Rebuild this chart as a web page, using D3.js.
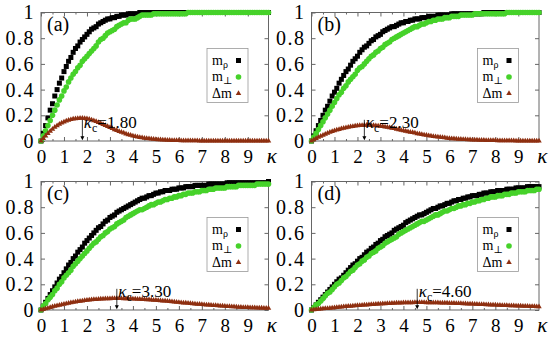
<!DOCTYPE html>
<html>
<head>
<meta charset="utf-8">
<script src="https://cdn.jsdelivr.net/npm/d3@7"></script>
<style>
body { margin: 0; background: #fff; }
</style>
</head>
<body>
<script>
// kappa grid (x values shared by every series)
const kappa = [
  0,0.1,0.2,0.3,0.4,0.5,0.6,0.7,0.8,0.9,
  1,1.1,1.2,1.3,1.4,1.5,1.6,1.7,1.8,1.9,
  2,2.1,2.2,2.3,2.4,2.5,2.6,2.7,2.8,2.9,
  3,3.1,3.2,3.3,3.4,3.5,3.6,3.7,3.8,3.9,
  4,4.1,4.2,4.3,4.4,4.5,4.6,4.7,4.8,4.9,
  5,5.1,5.2,5.3,5.4,5.5,5.6,5.7,5.8,5.9,
  6,6.1,6.2,6.3,6.4,6.5,6.6,6.7,6.8,6.9,
  7,7.1,7.2,7.3,7.4,7.5,7.6,7.7,7.8,7.9,
  8,8.1,8.2,8.3,8.4,8.5,8.6,8.7,8.8,8.9,
  9,9.1,9.2,9.3,9.4,9.5,9.6,9.7,9.8,9.9
];

const xTicks = [0,1,2,3,4,5,6,7,8,9];
const xMinorTicks = [0.5,1.5,2.5,3.5,4.5,5.5,6.5,7.5,8.5,9.5];
const yTicks = [0,0.2,0.4,0.6,0.8,1];

const panelLabels = ["(a)", "(b)", "(c)", "(d)"];
const kappaC = [1.80, 2.30, 3.30, 4.60];
const legendNames = ["m|ρ", "m|⊥", "Δm|"];

// panel (a)
const mRhoA = [
  0,.06,.12,.18,.24,.29,.35,.40,.45,.49,
  .54,.58,.62,.65,.69,.72,.74,.77,.79,.81,
  .83,.85,.87,.88,.89,.91,.92,.93,.94,.95,
  .95,.96,.96,.97,.97,.98,.98,.98,.99,.99,
  .99,.99,.99,1,1,1,1,1,1,1,
  1,1,1,1,1,1,1,1,1,1,
  1,1,1,1,1,1,1,1,1,1,
  1,1,1,1,1,1,1,1,1,1,
  1,1,1,1,1,1,1,1,1,1,
  1,1,1,1,1,1,1,1,1,1
];
const mPerpA = [
  0,.04,.08,.12,.16,.20,.24,.28,.32,.35,
  .39,.42,.46,.49,.52,.54,.57,.59,.62,.64,
  .66,.68,.70,.72,.74,.77,.79,.80,.82,.84,
  .85,.86,.87,.89,.90,.91,.92,.92,.94,.95,
  .95,.95,.96,.97,.98,.98,.98,.98,.98,.99,
  .99,.99,.99,.99,.99,.99,.99,.99,.99,.99,
  .99,.99,.99,.99,1,1,1,1,1,1,
  1,1,1,1,1,1,1,1,1,1,
  1,1,1,1,1,1,1,1,1,1,
  1,1,1,1,1,1,1,1,1,1
];
const dmA = [
  0,.020,.040,.059,.077,.093,.107,.120,.131,.141,
  .149,.156,.162,.167,.171,.174,.176,.177,.177,.176,
  .173,.169,.164,.158,.152,.145,.137,.129,.121,.113,
  .105,.097,.089,.082,.075,.068,.062,.056,.050,.045,
  .040,.036,.032,.028,.025,.022,.020,.018,.016,.014,
  .012,.011,.010,.009,.008,.007,.006,.005,.005,.004,
  .004,.003,.003,.003,.002,.002,.002,.002,.002,.001,
  .001,.001,.001,.001,.001,.001,.001,.001,.001,.001,
  0,0,0,0,0,0,0,0,0,0,
  0,0,0,0,0,0,0,0,0,0
];

// panel (b)
const mRhoB = [
  0,.04,.08,.12,.16,.20,.24,.27,.31,.35,
  .38,.41,.45,.48,.51,.54,.56,.59,.62,.64,
  .66,.69,.71,.73,.74,.76,.78,.79,.81,.82,
  .83,.85,.86,.87,.88,.89,.89,.90,.91,.92,
  .92,.93,.93,.94,.94,.95,.95,.95,.96,.96,
  .96,.97,.97,.97,.97,.98,.98,.98,.98,.98,
  .98,.99,.99,.99,.99,.99,.99,.99,.99,.99,
  .99,.99,.99,.99,.99,1,1,1,1,1,
  1,1,1,1,1,1,1,1,1,1,
  1,1,1,1,1,1,1,1,1,1
];
const mPerpB = [
  0,.03,.06,.09,.12,.15,.18,.21,.24,.27,
  .30,.33,.36,.38,.41,.43,.46,.48,.50,.52,
  .55,.57,.58,.60,.62,.64,.66,.67,.69,.70,
  .72,.73,.75,.76,.77,.79,.80,.81,.82,.83,
  .84,.85,.86,.87,.88,.89,.89,.90,.91,.91,
  .92,.93,.93,.94,.94,.95,.95,.95,.96,.96,
  .96,.97,.97,.97,.97,.98,.98,.98,.98,.98,
  .98,.99,.99,.99,.99,.99,.99,.99,.99,.99,
  .99,.99,.99,.99,.99,1,1,1,1,1,
  1,1,1,1,1,1,1,1,1,1
];
const dmB = [
  0,.010,.020,.029,.038,.046,.054,.061,.068,.074,
  .080,.086,.091,.096,.100,.104,.108,.111,.114,.117,
  .119,.121,.122,.123,.123,.123,.122,.121,.120,.118,
  .116,.113,.110,.107,.104,.100,.097,.093,.089,.085,
  .081,.077,.073,.069,.066,.062,.058,.055,.051,.048,
  .045,.042,.039,.036,.034,.031,.029,.027,.025,.023,
  .021,.019,.018,.016,.015,.014,.013,.012,.011,.010,
  .009,.008,.008,.007,.006,.006,.005,.005,.004,.004,
  .004,.003,.003,.003,.002,.002,.002,.002,.002,.001,
  .001,.001,.001,.001,.001,.001,.001,.001,.001,.001
];

// panel (c)
const mRhoC = [
  0,.03,.06,.09,.12,.15,.18,.21,.24,.26,
  .29,.32,.35,.37,.40,.42,.45,.47,.49,.52,
  .54,.56,.58,.60,.62,.64,.65,.67,.69,.70,
  .72,.73,.74,.76,.77,.78,.79,.80,.81,.82,
  .83,.84,.85,.86,.87,.87,.88,.89,.89,.90,
  .91,.91,.92,.92,.93,.93,.93,.94,.94,.94,
  .95,.95,.95,.96,.96,.96,.96,.97,.97,.97,
  .97,.97,.97,.98,.98,.98,.98,.98,.98,.98,
  .98,.99,.99,.99,.99,.99,.99,.99,.99,.99,
  .99,.99,.99,.99,.99,.99,.99,.99,.99,1
];
const mPerpC = [
  0,.03,.05,.08,.10,.12,.15,.17,.20,.22,
  .25,.27,.29,.31,.34,.36,.38,.40,.42,.44,
  .46,.48,.50,.52,.53,.55,.57,.58,.60,.61,
  .63,.64,.65,.67,.68,.69,.70,.72,.73,.74,
  .75,.76,.77,.78,.78,.79,.80,.81,.82,.82,
  .83,.84,.84,.85,.86,.86,.87,.87,.88,.88,
  .89,.89,.90,.90,.91,.91,.91,.92,.92,.92,
  .93,.93,.93,.94,.94,.94,.95,.95,.95,.95,
  .95,.96,.96,.96,.96,.96,.97,.97,.97,.97,
  .97,.97,.97,.97,.98,.98,.98,.98,.98,.98
];
const dmC = [
  0,.005,.010,.015,.020,.025,.029,.034,.038,.042,
  .046,.050,.053,.057,.060,.063,.066,.069,.071,.074,
  .076,.078,.080,.082,.083,.085,.086,.087,.088,.089,
  .089,.090,.090,.090,.090,.090,.089,.089,.088,.088,
  .087,.086,.085,.084,.083,.082,.081,.080,.078,.077,
  .076,.074,.073,.071,.070,.068,.066,.065,.063,.061,
  .060,.058,.056,.055,.053,.051,.050,.048,.046,.045,
  .043,.042,.040,.039,.037,.036,.035,.033,.032,.031,
  .030,.028,.027,.026,.025,.024,.023,.022,.021,.021,
  .020,.019,.018,.018,.017,.016,.016,.015,.015,.014
];

// panel (d)
const mRhoD = [
  0,.02,.04,.06,.08,.10,.12,.14,.16,.18,
  .20,.22,.24,.25,.27,.29,.31,.33,.35,.36,
  .38,.40,.41,.43,.45,.46,.48,.49,.51,.52,
  .54,.55,.57,.58,.59,.60,.62,.63,.64,.65,
  .66,.68,.69,.70,.71,.72,.73,.74,.74,.75,
  .76,.77,.78,.79,.79,.80,.81,.81,.82,.83,
  .83,.84,.85,.85,.86,.86,.87,.87,.88,.88,
  .89,.89,.89,.90,.90,.91,.91,.91,.92,.92,
  .92,.93,.93,.93,.93,.94,.94,.94,.94,.95,
  .95,.95,.95,.95,.96,.96,.96,.96,.96,.96
];
const mPerpD = [
  0,.02,.04,.05,.07,.09,.11,.13,.14,.16,
  .18,.20,.21,.23,.25,.26,.28,.30,.31,.33,
  .35,.36,.38,.39,.41,.42,.44,.45,.46,.48,
  .49,.50,.52,.53,.54,.55,.56,.57,.59,.60,
  .61,.62,.63,.64,.65,.66,.67,.68,.69,.69,
  .70,.71,.72,.73,.74,.74,.75,.76,.77,.77,
  .78,.79,.79,.80,.81,.81,.82,.82,.83,.83,
  .84,.84,.85,.85,.86,.86,.87,.87,.88,.88,
  .88,.89,.89,.89,.90,.90,.90,.91,.91,.91,
  .92,.92,.92,.92,.93,.93,.93,.93,.94,.94
];
const dmD = [
  0,.002,.004,.006,.008,.010,.012,.013,.015,.017,
  .019,.020,.022,.024,.025,.027,.029,.030,.032,.033,
  .035,.036,.038,.039,.040,.042,.043,.044,.045,.047,
  .048,.049,.050,.051,.052,.053,.054,.055,.055,.056,
  .057,.057,.058,.058,.058,.059,.059,.059,.059,.059,
  .058,.058,.058,.057,.057,.057,.056,.056,.055,.055,
  .054,.053,.053,.052,.051,.051,.050,.049,.048,.048,
  .047,.046,.045,.044,.044,.043,.042,.041,.040,.040,
  .039,.038,.037,.036,.036,.035,.034,.033,.033,.032,
  .031,.031,.030,.029,.029,.028,.027,.027,.026,.026
];

const panels = [
  { rho: mRhoA, perp: mPerpA, dm: dmA },
  { rho: mRhoB, perp: mPerpB, dm: dmB },
  { rho: mRhoC, perp: mPerpC, dm: dmC },
  { rho: mRhoD, perp: mPerpD, dm: dmD }
];

const colRho = "#000000", colPerp = "#46d22a", colDm = "#8e2f10";
const frameCol = "#666";
const serif = "'Liberation Serif', 'DejaVu Serif', 'Times New Roman', serif";

const svg = d3.select("body").append("svg")
  .attr("width", 550)
  .attr("height", 341);

const colX = [41, 311.5], rowY = [12.5, 181.5];
const pw = 227.5, ph = 128.5;

const x = d3.scaleLinear().domain([0, 9.9]).range([0, pw]);
const y = d3.scaleLinear().domain([0, 1]).range([ph, 0]);

const triangle = d3.symbol().type(d3.symbolTriangle).size(13);

panels.forEach((p, i) => {
  const g = svg.append("g")
    .attr("transform", `translate(${colX[i % 2]},${rowY[Math.floor(i / 2)]})`);

  // frame
  g.append("rect")
    .attr("width", pw).attr("height", ph)
    .attr("fill", "none").attr("stroke", frameCol).attr("stroke-width", 1);

  // bottom axis with labels, inward ticks
  const xa = g.append("g").attr("transform", `translate(0,${ph})`)
    .call(d3.axisBottom(x).tickValues(xTicks).tickSize(-4).tickPadding(9).tickFormat(d3.format("d")));
  g.append("g").attr("transform", `translate(0,${ph})`)
    .call(d3.axisBottom(x).tickValues(xMinorTicks).tickSize(-2).tickFormat(""));
  // top mirrored ticks
  g.append("g")
    .call(d3.axisTop(x).tickValues(xTicks).tickSize(-4).tickFormat(""));
  g.append("g")
    .call(d3.axisTop(x).tickValues(xMinorTicks).tickSize(-2).tickFormat(""));
  // left axis
  const ya = g.append("g")
    .call(d3.axisLeft(y).tickValues(yTicks).tickSize(-4).tickPadding(6).tickFormat(d3.format("~g")));
  // right mirrored ticks
  g.append("g").attr("transform", `translate(${pw},0)`)
    .call(d3.axisRight(y).tickValues(yTicks).tickSize(-4).tickFormat(""));

  g.selectAll(".domain").remove();
  g.selectAll(".tick line").attr("stroke", frameCol);
  xa.selectAll(".tick text").attr("fill", "#000").style("font-size", "19px");
  ya.selectAll(".tick text").attr("fill", "#000").style("font-size", "20px").style("letter-spacing", "1.5px");

  // kappa axis label
  g.append("text")
    .attr("x", x(10) + 1)
    .attr("y", ph + 22)
    .attr("text-anchor", "middle")
    .style("font-size", "21px")
    .style("font-style", "italic")
    .text("κ");

  // panel label
  g.append("text")
    .attr("x", 6).attr("y", 18)
    .style("font-size", "20px")
    .text(panelLabels[i]);

  // series
  const rows = kappa.map((k, j) => ({ k, rho: p.rho[j], perp: p.perp[j], dm: p.dm[j] }));

  g.append("g").selectAll("rect")
    .data(rows).enter().append("rect")
    .attr("x", d => x(d.k) - 2.5)
    .attr("y", d => y(d.rho) - 2.5)
    .attr("width", 5).attr("height", 5)
    .attr("fill", colRho);

  g.append("g").selectAll("circle")
    .data(rows).enter().append("circle")
    .attr("cx", d => x(d.k))
    .attr("cy", d => y(d.perp))
    .attr("r", 2.8)
    .attr("fill", colPerp);

  g.append("g").selectAll("path")
    .data(rows).enter().append("path")
    .attr("d", triangle)
    .attr("transform", d => `translate(${x(d.k)},${y(d.dm)})`)
    .attr("fill", colDm);

  // kappa_c annotation
  const kc = kappaC[i];
  const ax = x(kc);
  g.append("line")
    .attr("x1", ax).attr("x2", ax)
    .attr("y1", y(0.165)).attr("y2", y(0.005) - 3)
    .attr("stroke", "#000").attr("stroke-width", 0.8);
  g.append("path")
    .attr("d", `M${ax - 2},${y(0.005) - 4}L${ax + 2},${y(0.005) - 4}L${ax},${y(0.005)}Z`)
    .attr("fill", "#000");
  const t = g.append("text")
    .attr("x", ax + 1.5)
    .attr("y", y(0.105))
    .style("font-size", "17px");
  t.append("tspan").style("font-style", "italic").text("κ");
  t.append("tspan").attr("dy", 4).style("font-size", "12px").text("c");
  t.append("tspan").attr("dy", -4).text("=" + kc.toFixed(2));

  // legend
  const lg = g.append("g").attr("transform", "translate(166,36)");
  lg.append("rect")
    .attr("width", 41).attr("height", 54)
    .attr("fill", "#fff").attr("stroke", "#999").attr("stroke-width", 0.8);
  legendNames.forEach((nm, j) => {
    const [base, sub] = nm.split("|");
    const cy = 12 + j * 16.5;
    const lt = lg.append("text").attr("x", 5).attr("y", cy + 4).style("font-size", "14px");
    lt.append("tspan").text(base);
    if (sub) lt.append("tspan").attr("dy", 3).style("font-size", "10px").text(sub);
    if (j === 0) {
      lg.append("rect").attr("x", 29).attr("y", cy - 2.5).attr("width", 5).attr("height", 5).attr("fill", colRho);
    } else if (j === 1) {
      lg.append("circle").attr("cx", 31.5).attr("cy", cy).attr("r", 2.8).attr("fill", colPerp);
    } else {
      lg.append("path").attr("d", triangle).attr("transform", `translate(31.5,${cy})`).attr("fill", colDm);
    }
  });
});

// one serif face for every label
svg.selectAll("text").style("font-family", serif);
</script>
</body>
</html>
